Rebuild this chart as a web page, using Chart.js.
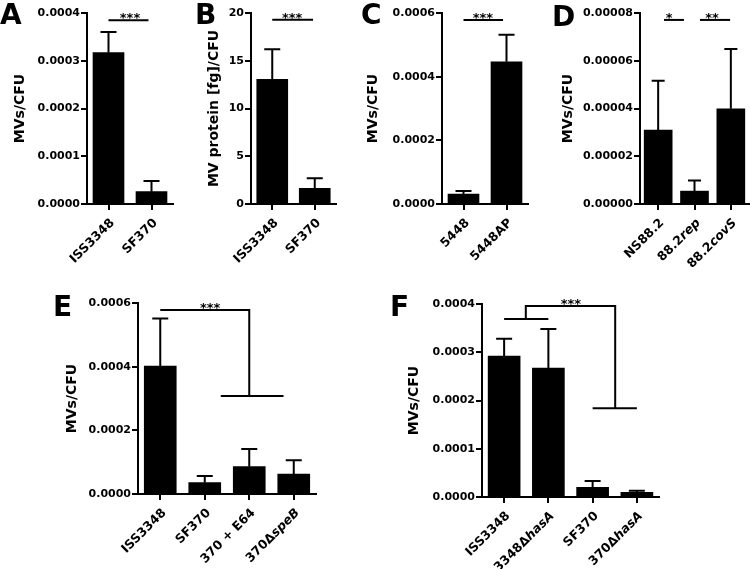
<!DOCTYPE html>
<html>
<head>
<meta charset="UTF-8">
<title>MV release per CFU</title>
<script src="https://cdn.jsdelivr.net/npm/chart.js"></script>
<style>
  body { margin: 0; background: #fff; }
  #fig { position: relative; width: 750px; height: 569px; overflow: hidden; background: #fff; }
  canvas, .tag { position: absolute; }
  .tag { font: bold 28px "DejaVu Sans"; line-height: 1; color: #000; }
</style>
</head>
<body>
<div id="fig">
  <canvas id="chartA" width="185" height="270" style="left:0;top:0"></canvas>
  <canvas id="chartB" width="175" height="270" style="left:185px;top:0"></canvas>
  <canvas id="chartC" width="195" height="270" style="left:360px;top:0"></canvas>
  <canvas id="chartD" width="195" height="270" style="left:555px;top:0"></canvas>
  <canvas id="chartE" width="360" height="289" style="left:0;top:280px"></canvas>
  <canvas id="chartF" width="390" height="289" style="left:360px;top:280px"></canvas>
  <div class="tag" style="left:0;top:1px">A</div>
  <div class="tag" style="left:195px;top:1px">B</div>
  <div class="tag" style="left:361px;top:1px">C</div>
  <div class="tag" style="left:552px;top:3px">D</div>
  <div class="tag" style="left:53px;top:293px">E</div>
  <div class="tag" style="left:390px;top:293px">F</div>
</div>
<script>
// A
const catsA = ['ISS3348', 'SF370'];
const valsA = [0.000317, 0.0000258];
const errsA = [0.000043, 0.0000224];
const ticksA = ['0.0000', '0.0001', '0.0002', '0.0003', '0.0004'];
// B
const catsB = ['ISS3348', 'SF370'];
const valsB = [13.06, 1.64];
const errsB = [3.14, 1.05];
const ticksB = ['0', '5', '10', '15', '20'];
// C
const catsC = ['5448', '5448AP'];
const valsC = [0.0000314, 0.000447];
const errsC = [0.0000094, 0.000085];
const ticksC = ['0.0000', '0.0002', '0.0004', '0.0006'];
// D
const catsD = ['NS88.2', '88.2rep', '88.2covS'];
const italD = ['', 'rep', 'covS'];
const valsD = [0.000031, 0.0000054, 0.0000399];
const errsD = [0.0000206, 0.0000044, 0.000025];
const ticksD = ['0.00000', '0.00002', '0.00004', '0.00006', '0.00008'];
// E
const catsE = ['ISS3348', 'SF370', '370 + E64', '370ΔspeB'];
const italE = ['', '', '', 'speB'];
const valsE = [0.000402, 0.0000356, 0.0000859, 0.0000628];
const errsE = [0.000149, 0.0000209, 0.0000551, 0.0000432];
const ticksE = ['0.0000', '0.0002', '0.0004', '0.0006'];
// F
const catsF = ['ISS3348', '3348ΔhasA', 'SF370', '370ΔhasA'];
const italF = ['', 'hasA', '', 'hasA'];
const valsF = [0.000292, 0.000267, 0.0000201, 0.0000097];
const errsF = [0.000036, 0.000081, 0.0000131, 0.0000033];
const ticksF = ['0.0000', '0.0001', '0.0002', '0.0003', '0.0004'];

// significance marks, in category index / value units
const sigA = { lines: [[[0, 0.000385], [0.93, 0.000385]]], stars: [[0.5, 0.000385, '***']] };
const sigB = { lines: [[[0, 19.3], [0.96, 19.3]]], stars: [[0.47, 19.3, '***']] };
const sigC = { lines: [[[0, 0.000578], [0.92, 0.000578]]], stars: [[0.45, 0.000578, '***']] };
const sigD = {
  lines: [[[0.16, 0.0000771], [0.71, 0.0000771]], [[1.15, 0.0000771], [1.98, 0.0000771]]],
  stars: [[0.3, 0.0000771, '*'], [1.48, 0.0000771, '**']]
};
const sigE = {
  lines: [[[0, 0.000578], [2, 0.000578], [2, 0.000308]], [[1.36, 0.000308], [2.77, 0.000308]]],
  stars: [[1.12, 0.000578, '***']]
};
const sigF = {
  lines: [[[0, 0.000369], [1, 0.000369]],
          [[0.49, 0.000369], [0.49, 0.000396], [2.51, 0.000396], [2.51, 0.000184]],
          [[2, 0.000184], [3, 0.000184]]],
  stars: [[1.51, 0.000396, '***']]
};

const FONT = '"DejaVu Sans"';

const errorBars = {
  id: 'errorBars',
  afterDatasetsDraw(chart, args, opts) {
    const { ctx } = chart;
    const y = chart.scales.y;
    const ds = chart.data.datasets[0];
    const cap = opts.cap;
    ctx.save();
    ctx.strokeStyle = '#000';
    ctx.lineWidth = 2;
    chart.getDatasetMeta(0).data.forEach((bar, i) => {
      const top = y.getPixelForValue(ds.data[i] + opts.errors[i]);
      ctx.beginPath();
      ctx.moveTo(bar.x, bar.y);
      ctx.lineTo(bar.x, top);
      ctx.moveTo(bar.x - cap, top);
      ctx.lineTo(bar.x + cap, top);
      ctx.stroke();
    });
    ctx.restore();
  }
};

const sigMarks = {
  id: 'sigMarks',
  afterDraw(chart, args, opts) {
    const { ctx } = chart;
    const { x, y } = chart.scales;
    ctx.save();
    ctx.strokeStyle = '#000';
    ctx.lineWidth = 2;
    opts.lines.forEach(path => {
      ctx.beginPath();
      path.forEach(([i, v], k) => {
        const px = x.getPixelForValue(i), py = y.getPixelForValue(v);
        if (k) ctx.lineTo(px, py); else ctx.moveTo(px, py);
      });
      ctx.stroke();
    });
    ctx.fillStyle = '#000';
    ctx.font = 'bold 13px ' + FONT;
    ctx.textAlign = 'center';
    ctx.textBaseline = 'alphabetic';
    opts.stars.forEach(([i, v, t]) => {
      ctx.fillText(t, x.getPixelForValue(i), y.getPixelForValue(v) + 2);
    });
    ctx.restore();
  }
};

// slanted category labels, with an italic tail where the strain name needs it
const slantLabels = {
  id: 'slantLabels',
  afterDraw(chart, args, opts) {
    const { ctx } = chart;
    const x = chart.scales.x;
    const base = x.top + 17;
    ctx.save();
    ctx.fillStyle = '#000';
    ctx.textBaseline = 'middle';
    chart.data.labels.forEach((lab, i) => {
      const it = (opts.italic && opts.italic[i]) || '';
      const head = it ? lab.slice(0, lab.length - it.length) : lab;
      const upright = 'bold 12.5px ' + FONT, slanted = 'italic bold 12.5px ' + FONT;
      ctx.font = upright;
      const w1 = ctx.measureText(head).width;
      ctx.font = slanted;
      const w2 = it ? ctx.measureText(it).width : 0;
      ctx.save();
      ctx.translate(x.getPixelForValue(i) + 4, base);
      ctx.rotate(-Math.PI / 4);
      ctx.textAlign = 'left';
      ctx.font = upright;
      ctx.fillText(head, -(w1 + w2), 0);
      if (it) {
        ctx.font = slanted;
        ctx.fillText(it, -w2, 0);
      }
      ctx.restore();
    });
    ctx.restore();
  }
};

function panel(id, p) {
  const tickVals = p.ticks.map(Number);
  new Chart(document.getElementById(id), {
    type: 'bar',
    data: {
      labels: p.cats,
      datasets: [{ data: p.vals, backgroundColor: '#000', borderWidth: 0, barThickness: p.bar }]
    },
    options: {
      responsive: false,
      animation: false,
      layout: { autoPadding: false, padding: { top: p.top, right: p.right, left: 0, bottom: 0 } },
      scales: {
        x: {
          type: 'category',
          offset: true,
          grid: { drawOnChartArea: false, drawTicks: true, tickLength: 6, offset: false, color: '#000', lineWidth: 2 },
          border: { display: true, color: '#000', width: 2 },
          ticks: { display: false },
          afterFit: s => { s.height = p.xh; }
        },
        y: {
          min: 0,
          max: tickVals[tickVals.length - 1],
          grid: { drawOnChartArea: false, drawTicks: true, tickLength: 6, color: '#000', lineWidth: 2 },
          border: { display: true, color: '#000', width: 2 },
          ticks: {
            color: '#000', padding: 1,
            font: { family: FONT, size: 11, weight: 'bold' },
            callback: (v, i) => p.ticks[i]
          },
          afterBuildTicks: s => { s.ticks = tickVals.map(v => ({ value: v })); },
          afterFit: s => { s.width = p.yw; },
          title: {
            display: true, text: p.title, color: '#000',
            font: { family: FONT, size: 14, weight: 'bold' },
            padding: { top: p.tpad, bottom: 0 }
          }
        }
      },
      plugins: {
        legend: { display: false },
        tooltip: { enabled: false },
        errorBars: { errors: p.errs, cap: p.cap },
        sigMarks: p.sig,
        slantLabels: { italic: p.ital }
      }
    },
    plugins: [errorBars, sigMarks, slantLabels]
  });
}

panel('chartA', { cats: catsA, vals: valsA, errs: errsA, ticks: ticksA, sig: sigA, title: 'MVs/CFU',
  yw: 87, right: 12, top: 13, xh: 66, tpad: 11.6, bar: 31, cap: 8 });
panel('chartB', { cats: catsB, vals: valsB, errs: errsB, ticks: ticksB, sig: sigB, title: 'MV protein [fg]/CFU',
  yw: 66, right: 24, top: 13, xh: 66, tpad: 20.6, bar: 31, cap: 8 });
panel('chartC', { cats: catsC, vals: valsC, errs: errsC, ticks: ticksC, sig: sigC, title: 'MVs/CFU',
  yw: 82, right: 27, top: 13, xh: 66, tpad: 4.6, bar: 31, cap: 8 });
panel('chartD', { cats: catsD, vals: valsD, errs: errsD, ticks: ticksD, sig: sigD, title: 'MVs/CFU', ital: italD,
  yw: 85, right: 1, top: 13, xh: 66, tpad: 4.6, bar: 28, cap: 6.5 });
panel('chartE', { cats: catsE, vals: valsE, errs: errsE, ticks: ticksE, sig: sigE, title: 'MVs/CFU', ital: italE,
  yw: 138, right: 44, top: 23, xh: 75, tpad: 63.6, bar: 32, cap: 8 });
panel('chartF', { cats: catsF, vals: valsF, errs: errsF, ticks: ticksF, sig: sigF, title: 'MVs/CFU', ital: italF,
  yw: 122, right: 91, top: 24, xh: 72, tpad: 45.6, bar: 32, cap: 8 });
</script>
</body>
</html>
